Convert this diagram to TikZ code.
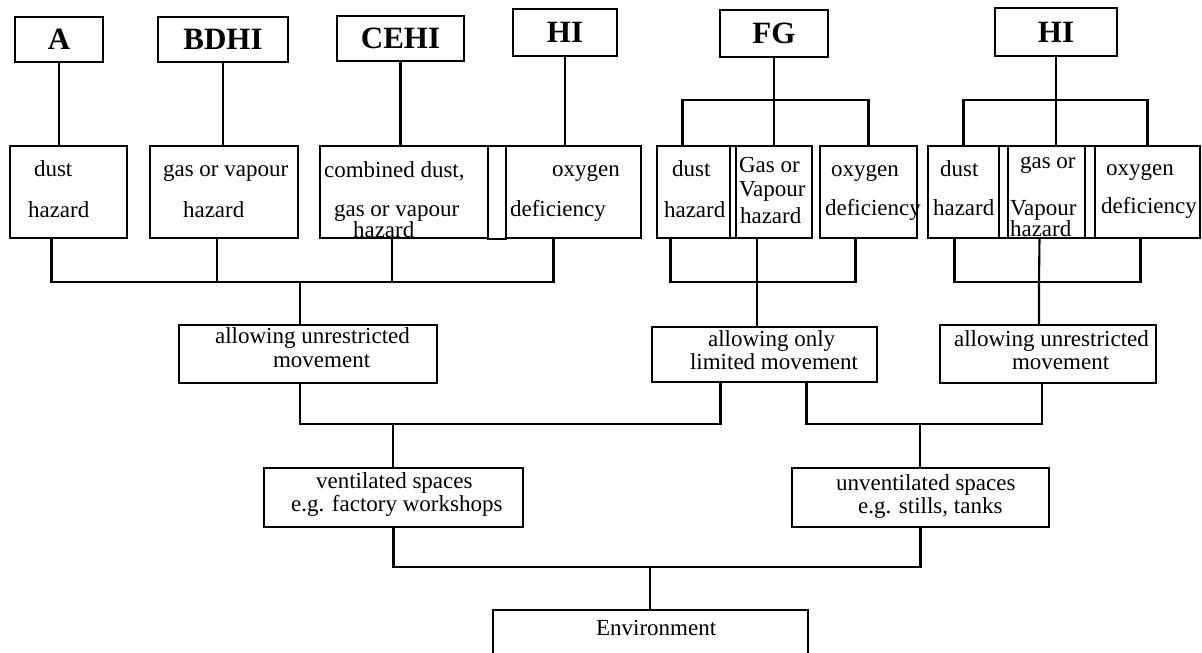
\documentclass[tikz,border=0pt]{standalone}
\usepackage{fontspec}
\setmainfont{Liberation Serif}
\usepackage{tikz}

\tikzset{
  box/.style={draw, inner sep=0pt, outer sep=0pt, anchor=north west},
  tag/.style={box, font=\bfseries\fontsize{31}{31}\selectfont},
  txt/.style={inner sep=0pt, anchor=base west, font=\fontsize{23}{23}\selectfont},
}

\begin{document}
\begin{tikzpicture}[x=1pt,y=-1pt,line width=2.1pt]
          \useasboundingbox (0,0) rectangle (1202,653);
          % letter tags
          \node[tag, minimum width=88pt, minimum height=45pt] (tA) at (15,17) {A};
          \node[tag, minimum width=130pt, minimum height=45pt] (tB) at (158,17) {BDHI};
          \node[tag, minimum width=127pt, minimum height=45pt] (tC) at (337,16) {CEHI};
          \node[tag, minimum width=104pt, minimum height=47pt] (tH1) at (513,9) {HI};
          \node[tag, minimum width=108pt, minimum height=47pt] (tFG) at (720,10) {FG};
          \node[tag, minimum width=122pt, minimum height=48pt] (tH2) at (995,8) {HI};
          % hazard boxes
          \node[box, minimum width=117pt, minimum height=92pt] (d1) at (10,146) {};
          \node[box, minimum width=148pt, minimum height=92pt] (g1) at (150,146) {};
          \node[box, minimum width=168pt, minimum height=92pt] (c1) at (320,146) {};
          \node[box, minimum width=18pt, minimum height=93pt] (n1) at (488,146) {};
          \node[box, minimum width=135pt, minimum height=92pt] (o1) at (506,146) {};
          \node[box, minimum width=73pt, minimum height=92pt] (d2) at (657,146) {};
          \node[box, minimum width=6pt, minimum height=92pt] (n2) at (730,146) {};
          \node[box, minimum width=76pt, minimum height=92pt] (g2) at (736,146) {};
          \node[box, minimum width=97pt, minimum height=92pt] (o2) at (820,146) {};
          \node[box, minimum width=71pt, minimum height=92pt] (d3) at (928,146) {};
          \node[box, minimum width=9pt, minimum height=92pt] (n3) at (999,146) {};
          \node[box, minimum width=77pt, minimum height=92pt] (g3) at (1008,146) {};
          \node[box, minimum width=10pt, minimum height=92pt] (n4) at (1085,146) {};
          \node[box, minimum width=105pt, minimum height=92pt] (o3) at (1095,146) {};
          \node[txt] (d1a) at (33,176) {dust};
          \node[txt] (d1b) at (27,217) {hazard};
          \node[txt] (g1a) at (162,176) {gas or vapour};
          \node[txt] (g1b) at (182,217) {hazard};
          \node[txt] (c1a) at (323,177) {combined dust,};
          \node[txt] (c1b) at (333,216) {gas or vapour};
          \node[txt] (c1c) at (352,237) {hazard};
          \node[txt] (o1a) at (551,176) {oxygen};
          \node[txt] (o1b) at (509,216) {deficiency};
          \node[txt] (d2a) at (671,176) {dust};
          \node[txt] (d2b) at (663,217) {hazard};
          \node[txt] (g2a) at (738,172) {Gas or};
          \node[txt] (g2b) at (738,196) {Vapour};
          \node[txt] (g2c) at (739,223) {hazard};
          \node[txt] (o2a) at (830,176) {oxygen};
          \node[txt] (o2b) at (824,215) {deficiency};
          \node[txt] (d3a) at (939,176) {dust};
          \node[txt] (d3b) at (932,215) {hazard};
          \node[txt] (g3a) at (1019,168) {gas or};
          \node[txt] (g3b) at (1009,215) {Vapour};
          \node[txt] (g3c) at (1009,236) {hazard};
          \node[txt] (o3a) at (1105,175) {oxygen};
          \node[txt] (o3b) at (1100,213) {deficiency};
          % movement boxes
          \node[box, minimum width=258pt, minimum height=58pt] (al) at (179,325) {};
          \node[box, minimum width=225pt, minimum height=55pt] (lm) at (652,327) {};
          \node[box, minimum width=216pt, minimum height=58pt] (ar) at (940,325) {};
          \node[txt] (ala) at (214,343) {allowing unrestricted};
          \node[txt] (alb) at (272,367) {movement};
          \node[txt] (lma) at (707,346) {allowing only};
          \node[txt] (lmb) at (689,369) {limited movement};
          \node[txt] (ara) at (953,346) {allowing unrestricted};
          \node[txt] (arb) at (1011,369) {movement};
          % spaces and environment
          \node[box, minimum width=259pt, minimum height=59pt] (ve) at (264,468) {};
          \node[box, minimum width=257pt, minimum height=59pt] (un) at (792,468) {};
          \node[box, minimum width=315pt, minimum height=60pt] (en) at (493,610) {};
          \node[txt] (vea) at (315,488) {ventilated spaces};
          \node[txt] (veb) at (290,511) {e.g. factory workshops};
          \node[txt] (una) at (835,490) {unventilated spaces};
          \node[txt] (unb) at (857,513) {e.g. stills, tanks};
          \node[txt] (ena) at (595,635) {Environment};
          % tags down to hazards
          \draw (tA.south) -- (tA.south |- d1.north);
          \draw (tB.south) -- (tB.south |- g1.north);
          \draw (tC.south) -- (tC.south |- c1.north);
          \draw (tH1.south) -- (tH1.south |- o1.north);
          \coordinate (jf) at (774,100);
          \draw ([xshift=-11pt]d2.north) |- (jf) -| (o2.north);
          \draw (tFG.south) -- (g2.north);
          \coordinate (jh) at (1056,100);
          \draw (d3.north) |- (jh) -| (o3.north);
          \draw (tH2.south) -- (tH2.south |- g3.north);
          % hazards down to movement
          \coordinate (jl) at (300,282);
          \draw ([xshift=-17pt]d1.south) |- (jl) -| ([xshift=-20pt]o1.south);
          \draw ([xshift=-7pt]g1.south) -- ([xshift=-7pt]g1.south |- jl);
          \draw ([xshift=-12pt]c1.south) -- ([xshift=-12pt]c1.south |- jl);
          \draw (jl) -- (jl |- al.north);
          \coordinate (jm) at (757,282);
          \draw ([xshift=-23pt]d2.south) |- (jm) -| ([xshift=-13pt]o2.south);
          \draw ([xshift=-17pt]g2.south) -- (jm) -- (jm |- lm.north);
          \coordinate (jr) at (1039,282);
          \draw ([xshift=-9pt]d3.south) |- (jr) -| ([xshift=-7pt]o3.south);
          \draw ([xshift=-7pt]g3.south) -- (jr) -- (jr |- ar.north);
          % movement down to spaces
          \coordinate (jv) at (393,424);
          \draw ([xshift=-8pt]al.south) |- (jv) -| ([xshift=-44pt]lm.south);
          \draw (jv) -- (jv |- ve.north);
          \coordinate (ju) at (920,424);
          \draw ([xshift=42pt]lm.south) |- (ju) -| ([xshift=-6pt]ar.south);
          \draw (ju) -- (ju |- un.north);
          % spaces down to environment
          \coordinate (je) at (650,567);
          \draw (ve.south) |- (je) -| (un.south);
          \draw (je) -- (je |- en.north);
        \end{tikzpicture}
\end{document}
